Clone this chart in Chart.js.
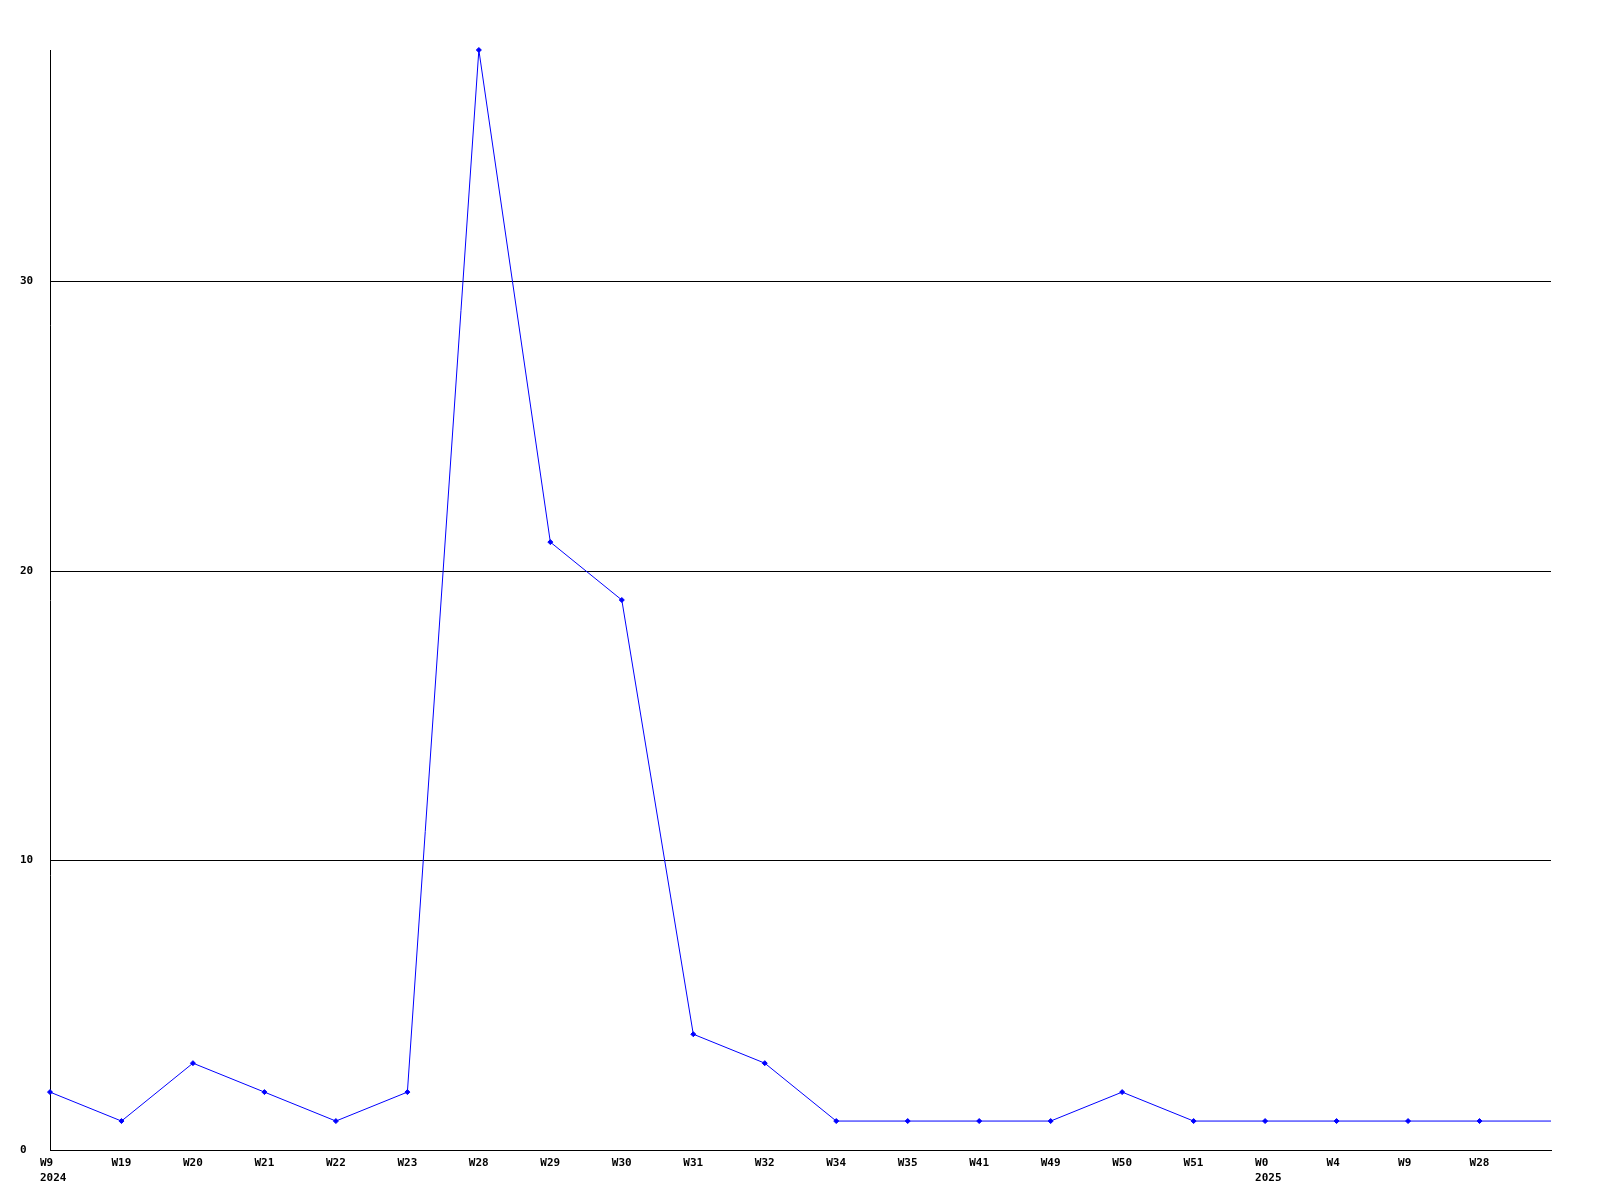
<!DOCTYPE html>
<html>
<head>
<meta charset="utf-8">
<script src="https://cdn.jsdelivr.net/npm/chart.js@4.4.1/dist/chart.umd.min.js"></script>
<style>
  html, body { margin: 0; padding: 0; background: #fff; }
  canvas { display: block; }
</style>
</head>
<body>
<canvas id="weekChart" width="1600" height="1200"></canvas>
<script>
// chart data
const weekLabels = ['W9', 'W19', 'W20', 'W21', 'W22', 'W23', 'W28', 'W29', 'W30', 'W31', 'W32',
                    'W34', 'W35', 'W41', 'W49', 'W50', 'W51', 'W0', 'W4', 'W9', 'W28', ''];
const yearLabels = ['2024', '', '', '', '', '', '', '', '', '', '',
                    '', '', '', '', '', '', '2025', '', '', '', ''];
const counts = [2, 1, 3, 2, 1, 2, 38, 21, 19, 4, 3, 1, 1, 1, 1, 2, 1, 1, 1, 1, 1, 1];
const yTicks = [0, 10, 20, 30];
const yMax = 38;

const labelFont = 'bold 11px "DejaVu Sans Mono", "Liberation Mono", monospace';

// x labels are left aligned a little before each point, so draw them by hand
const xLabelPlugin = {
    id: 'xLabels',
    afterDraw(chart) {
        const ctx = chart.ctx;
        const xScale = chart.scales.x;
        const top = chart.chartArea.bottom + 8;
        ctx.save();
        ctx.font = labelFont;
        ctx.fillStyle = '#000';
        ctx.textAlign = 'left';
        ctx.textBaseline = 'top';
        weekLabels.forEach((w, i) => {
            const px = xScale.getPixelForTick(i) - 10;
            if (w) ctx.fillText(w, px, top);
            if (yearLabels[i]) ctx.fillText(yearLabels[i], px, top + 15);
        });
        ctx.restore();
    }
};

new Chart(document.getElementById('weekChart'), {
    type: 'line',
    data: {
        labels: weekLabels,
        datasets: [{
            data: counts,
            borderColor: '#0000ff',
            backgroundColor: '#0000ff',
            borderWidth: 1,
            tension: 0,
            fill: false,
            clip: false,
            pointStyle: 'rectRot',
            pointRadius: (c) => c.dataIndex === counts.length - 1 ? 0 : 2.5,
            pointBorderWidth: 1
        }]
    },
    options: {
        responsive: false,
        animation: false,
        layout: { padding: { left: 20, top: 50, right: 49, bottom: 0 } },
        plugins: {
            legend: { display: false },
            tooltip: { enabled: false }
        },
        scales: {
            x: {
                grid: { display: false, drawTicks: false },
                border: { display: true, color: '#000', width: 1 },
                ticks: { display: false },
                afterFit(scale) { scale.height = 50; }
            },
            y: {
                min: 0,
                max: yMax,
                afterBuildTicks(scale) {
                    scale.ticks = yTicks.map(v => ({ value: v }));
                },
                grid: { color: '#000', lineWidth: 1, drawTicks: false },
                border: { display: true, color: '#000', width: 1 },
                ticks: {
                    crossAlign: 'far',
                    padding: 0,
                    color: '#000',
                    font: { family: '"DejaVu Sans Mono", "Liberation Mono", monospace', size: 11, weight: 'bold' }
                },
                afterFit(scale) { scale.width = 30; }
            }
        }
    },
    plugins: [xLabelPlugin]
});
</script>
</body>
</html>
